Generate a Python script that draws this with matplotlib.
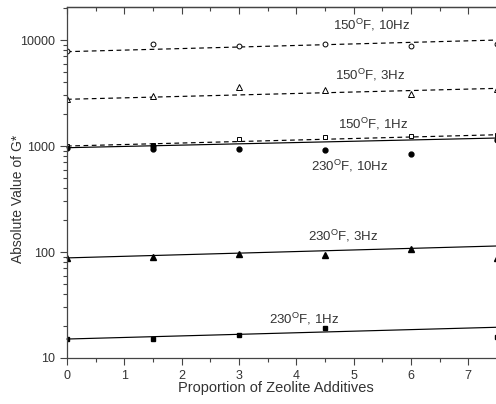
import matplotlib
matplotlib.use("Agg")
import matplotlib.pyplot as plt
from matplotlib.ticker import LogLocator, FixedLocator, MultipleLocator, NullFormatter
import numpy as np

plt.rcParams['font.family'] = ['Liberation Sans', 'DejaVu Sans']
plt.rcParams['mathtext.fontset'] = 'custom'
plt.rcParams['mathtext.rm'] = 'Liberation Sans'

x = [0, 1.5, 3, 4.5, 6, 7.5]

# 150F series (open markers, dashed fits)
g150_10 = [7800, 9100, 8830, 9100, 8830, 9100]
g150_3 = [2760, 2990, 3580, 3350, 3095, 3430]
g150_1 = [1000, 1020, 1163, 1216, 1251, 1280]
# 230F series (filled markers, solid fits)
x230_10 = [0, 1.5, 1.5, 3, 4.5, 6, 7.5]
g230_10 = [960, 940, 1000, 937, 923, 836, 1130]
g230_3 = [87.3, 89.2, 95.1, 93.7, 106.7, 87.3]
x230_1 = [0, 1.5, 3, 4.5, 7.5]
g230_1 = [15.0, 15.0, 16.6, 19.1, 15.8]

# fitted lines (values at x=0 and x=7.5)
fit_x = [0, 7.5]
fit150_10 = [7770, 10000]
fit150_3 = [2760, 3500]
fit150_1 = [1000, 1278]
fit230_10 = [964, 1190]
fit230_3 = [88, 114]
fit230_1 = [15.1, 19.5]

labels = [r'150$^{\mathrm{O}}$F, 10Hz', r'150$^{\mathrm{O}}$F, 3Hz', r'150$^{\mathrm{O}}$F, 1Hz',
          r'230$^{\mathrm{O}}$F, 10Hz', r'230$^{\mathrm{O}}$F, 3Hz', r'230$^{\mathrm{O}}$F, 1Hz']
label_pos = [(5.32, 13800), (5.29, 4680), (5.34, 1615), (4.94, 647), (4.82, 141.6), (4.14, 23.3)]

fig = plt.figure(figsize=(4.96, 4.04), dpi=100)
ax = fig.add_axes([67/496, 1 - 358/404, (497 - 67)/496, (358 - 7)/404])
ax.set_yscale('log')
ax.set_xlim(0, 7.5)
ax.set_ylim(10, 20500)

c = 'black'
dash = (0, (4, 3))
lw = 0.85
ax.plot(fit_x, fit150_10, color=c, lw=lw, linestyle=dash, clip_on=False)
ax.plot(fit_x, fit150_3, color=c, lw=lw, linestyle=dash, clip_on=False)
ax.plot(fit_x, fit150_1, color=c, lw=lw, linestyle=dash, clip_on=False)
ax.plot(fit_x, fit230_10, color=c, lw=lw, clip_on=False)
ax.plot(fit_x, fit230_3, color=c, lw=lw, clip_on=False)
ax.plot(fit_x, fit230_1, color=c, lw=lw, clip_on=False)

ms = 3.5
ax.plot(x, g150_10, 'o', mfc='white', mec=c, ms=ms, mew=0.7, linestyle='none')
ax.plot(x, g150_3, '^', mfc='white', mec=c, ms=ms + 0.5, mew=0.7, linestyle='none')
ax.plot(x, g150_1, 's', mfc='white', mec=c, ms=ms, mew=0.7, linestyle='none')
ax.plot(x230_10, g230_10, 'o', color=c, ms=ms, linestyle='none')
ax.plot(x, g230_3, '^', color=c, ms=ms + 0.5, linestyle='none')
ax.plot(x230_1, g230_1, 's', color=c, ms=ms - 0.5, linestyle='none')

tc = '#333333'
sc = '#444444'
for lab, (lx, ly) in zip(labels, label_pos):
    ax.text(lx, ly, lab, ha='center', va='center', fontsize=9.5, color=tc)

ax.spines['right'].set_visible(False)
for s in ['left', 'bottom', 'top']:
    ax.spines[s].set_color(sc)
    ax.spines[s].set_linewidth(0.9)

ax.xaxis.set_major_locator(MultipleLocator(1))
ax.xaxis.set_minor_locator(MultipleLocator(0.5))
ax.tick_params(axis='x', which='major', direction='out', length=5, width=0.8,
               colors=sc, labelcolor=tc, labelsize=9)
ax.tick_params(axis='x', which='minor', direction='out', length=3, width=0.8, colors=sc)

top = ax.secondary_xaxis('top')
top.xaxis.set_major_locator(MultipleLocator(1))
top.xaxis.set_minor_locator(MultipleLocator(0.5))
top.tick_params(axis='x', which='major', direction='in', length=5, width=0.8,
                colors=sc, labeltop=False)
top.tick_params(axis='x', which='minor', direction='in', length=3, width=0.8, colors=sc)
top.spines['top'].set_color(sc)
top.spines['top'].set_linewidth(0.9)

ax.yaxis.set_major_locator(FixedLocator([10, 100, 1000, 10000]))
ax.yaxis.set_minor_locator(LogLocator(base=10, subs=np.arange(2, 10)))
ax.yaxis.set_minor_formatter(NullFormatter())
ax.set_yticklabels(['10', '100', '1000', '10000'])
ax.tick_params(axis='y', which='major', direction='out', length=5, width=0.8,
               colors=sc, labelcolor=tc, labelsize=9)
ax.tick_params(axis='y', which='minor', direction='out', length=3, width=0.8, colors=sc)

ax.set_xlabel('Proportion of Zeolite Additives', fontsize=10.5, color=tc)
ax.set_ylabel('Absolute Value of G*', fontsize=10, color=tc)
ax.xaxis.set_label_coords((276 - 67) / 430, -(381 - 358) / 351)
ax.yaxis.set_label_coords(-(67 - 25) / 430, (358 - 199) / 351)

fig.savefig('out.png', dpi=100)
